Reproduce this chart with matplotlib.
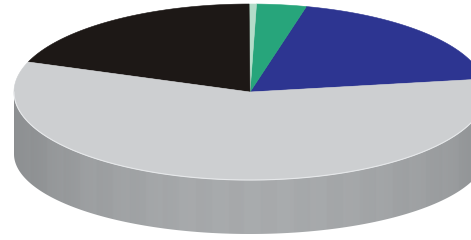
import numpy as np
import matplotlib
matplotlib.use('Agg')
import matplotlib.pyplot as plt
from matplotlib.patches import Polygon

#------------- data -------------#
labels = ['blue', 'green', 'pale', 'black', 'grey']
values = [18.8, 3.4, 0.5, 19.4, 57.9]   # percent, counter-clockwise
colors = ['#2d3591', '#27a57b', '#b3dcc9', '#1d1816', '#cdcfd1']
start_angle = 8.5                       # degrees, grey/blue boundary

## geometry (pixels) ##
W, H = 471, 240
cx, cy = 250, 92
a, b = 236, 88          # top ellipse
depth, b_bot = 62, 80   # side

def top_pt(t):
    return cx + a*np.cos(t), cy - b*np.sin(t)

fig = plt.figure(figsize=(W/100, H/100), dpi=100)
ax = fig.add_axes([0, 0, 1, 1])
ax.set_xlim(0, W)
ax.set_ylim(H, 0)
ax.axis('off')

#------------- side (front half) -------------#
t = np.linspace(np.pi, 2*np.pi, 200)
xt, yt = top_pt(t)
xb = cx + a*np.cos(t[::-1])
yb = cy + depth - b_bot*np.sin(t[::-1])
side = Polygon(np.column_stack([np.r_[xt, xb], np.r_[yt, yb]]), closed=True,
               facecolor='none', edgecolor='none')
ax.add_patch(side)

grad_x = np.array([0.0, 0.15, 0.35, 0.55, 0.75, 0.9, 1.0])
grad_v = np.array([0.56, 0.62, 0.66, 0.67, 0.65, 0.62, 0.58])
xs = np.linspace(0, 1, 400)
vals = np.interp(xs, grad_x, grad_v)
## faint vertical stripes ##
stripe = 0.004*np.sign(np.sin(xs*90))
img = np.clip(vals + stripe, 0, 1)
rgb = np.stack([img - 0.01, img, img + 0.008], axis=-1)[None, :, :]
im = ax.imshow(np.clip(rgb, 0, 1), extent=[cx - a, cx + a, cy + depth + b_bot + 2, cy - 2],
               aspect='auto', interpolation='bilinear', zorder=1)
im.set_clip_path(side)

#------------- top slices -------------#
ang = start_angle
for v, c in zip(values, colors):
    span = v/100.0*360.0
    tt = np.radians(np.linspace(ang, ang + span, max(int(span*2), 4)))
    px, py = top_pt(tt)
    poly = Polygon(np.column_stack([np.r_[cx, px], np.r_[cy, py]]), closed=True,
                   facecolor=c, edgecolor=c, lw=0.4, zorder=2)
    ax.add_patch(poly)
    ang += span

## rim highlight ##
ax.plot(xt, yt, color='#e6e8ea', lw=0.8, zorder=3)

fig.savefig('out.png', dpi=100)
